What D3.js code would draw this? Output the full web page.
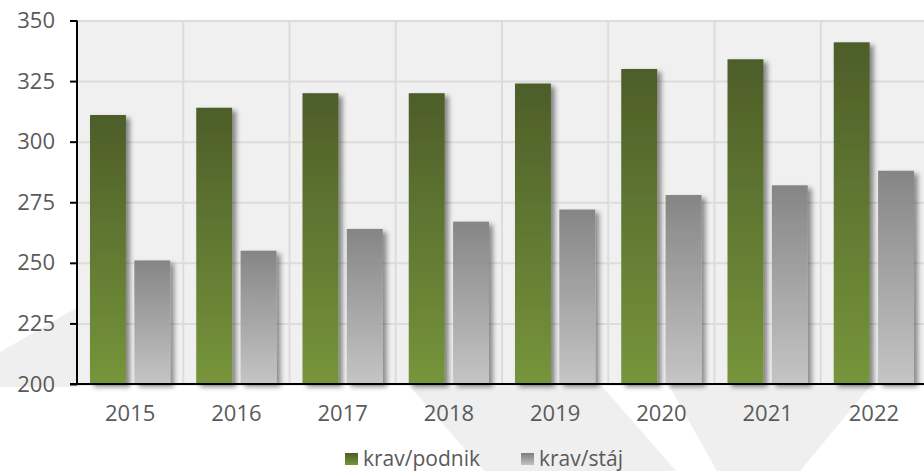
<!DOCTYPE html>
<html>
<head>
<meta charset="utf-8">
<title>krav</title>
<script src="https://cdn.jsdelivr.net/npm/d3@7"></script>
<style>
  body { margin: 0; background: #ffffff; }
  text { font-family: "Open Sans", "DejaVu Sans", sans-serif; }
</style>
</head>
<body>
<svg id="mainsvg" width="924" height="471"></svg>
<script>
  // data
  const years = ['2015', '2016', '2017', '2018', '2019', '2020', '2021', '2022'];
  const podnik = [311, 314, 320, 320, 324, 330, 334, 341];
  const staj = [251, 255, 264, 267, 272, 278, 282, 288];
  const seriesNames = ['krav/podnik', 'krav/stáj'];
  const yTicks = [200, 225, 250, 275, 300, 325, 350];

  const svg = d3.select('#mainsvg');
  const margin = {top: 20.5, left: 77, bottom: 87, right: -3};
  const width = +svg.attr('width'), height = +svg.attr('height');
  const innerWidth = width - margin.left - margin.right;
  const innerHeight = height - margin.top - margin.bottom;

  const defs = svg.append('defs');
  const gGreen = defs.append('linearGradient').attr('id', 'gGreen')
    .attr('x1', 0).attr('y1', 0).attr('x2', 0).attr('y2', 1);
  gGreen.append('stop').attr('offset', '0%').attr('stop-color', '#4d5d29');
  gGreen.append('stop').attr('offset', '100%').attr('stop-color', '#76953b');
  const gGray = defs.append('linearGradient').attr('id', 'gGray')
    .attr('x1', 0).attr('y1', 0).attr('x2', 0).attr('y2', 1);
  gGray.append('stop').attr('offset', '0%').attr('stop-color', '#7e7e7e');
  gGray.append('stop').attr('offset', '100%').attr('stop-color', '#c2c2c2');
  const shadow = defs.append('filter').attr('id', 'shadow')
    .attr('x', '-20%').attr('y', '-10%').attr('width', '160%').attr('height', '130%');
  shadow.append('feDropShadow').attr('dx', 4).attr('dy', 3).attr('stdDeviation', 2.5)
    .attr('flood-color', '#000').attr('flood-opacity', 0.45);

  // watermark in the back
  const wm = svg.append('g').attr('fill', '#efefef');
  wm.append('polygon').attr('points', '0,352 80,306 80,387 0,387');
  wm.append('polygon').attr('points', '408,384 600,384 676,471 484,471');
  wm.append('polygon').attr('points', '668,384 872,384 800,471 717,471');

  const series = [podnik, staj];
  const colors = ['url(#gGreen)', 'url(#gGray)'];

  const x0 = d3.scaleBand().domain(years).range([0, innerWidth]);
  const x1 = d3.scaleBand().domain(seriesNames)
    .range([13, x0.bandwidth() - 13]).paddingInner(0.19);
  const y = d3.scaleLinear().domain([200, 350]).range([innerHeight, 0]);

  const g = svg.append('g').attr('transform', `translate(${margin.left},${margin.top})`);

  g.append('rect').attr('width', innerWidth).attr('height', innerHeight).attr('fill', '#f0f0f0');

  // grid
  g.append('g').call(d3.axisLeft(y).tickValues(yTicks).tickSize(-innerWidth).tickFormat(''))
    .call(a => a.select('.domain').remove())
    .selectAll('line').attr('stroke', '#dcdcdc').attr('stroke-width', 2);
  g.append('g').selectAll('line').data(years.slice(1)).join('line')
    .attr('x1', d => x0(d)).attr('x2', d => x0(d))
    .attr('y1', 0).attr('y2', innerHeight)
    .attr('stroke', '#dcdcdc').attr('stroke-width', 2);

  // bars
  const groups = g.append('g').selectAll('g').data(years).join('g')
    .attr('transform', d => `translate(${x0(d)},0)`);
  groups.selectAll('rect')
    .data((d, i) => seriesNames.map((s, k) => ({s, k, v: series[k][i]})))
    .join('rect')
    .attr('x', d => x1(d.s))
    .attr('width', x1.bandwidth())
    .attr('y', d => y(d.v))
    .attr('height', d => innerHeight - y(d.v))
    .attr('fill', d => colors[d.k])
    .attr('opacity', d => d.k === 1 ? 0.93 : 1)
    .attr('filter', 'url(#shadow)');

  // y axis
  const yAxis = g.append('g').call(d3.axisLeft(y).tickValues(yTicks).tickSize(7).tickPadding(15));
  yAxis.select('.domain').attr('stroke', '#000').attr('stroke-width', 2).attr('d', `M0,0V${innerHeight}`);
  yAxis.selectAll('.tick line').attr('stroke', '#000').attr('stroke-width', 2);
  yAxis.selectAll('text').attr('fill', '#5a5a5a').attr('font-size', 22);

  // x axis
  const xAxis = g.append('g').attr('transform', `translate(0,${innerHeight})`)
    .call(d3.axisBottom(x0).tickSize(0).tickPadding(21));
  xAxis.select('.domain').remove();
  xAxis.selectAll('text').attr('fill', '#5a5a5a').attr('font-size', 22);
  g.append('line').attr('x1', -7).attr('x2', innerWidth)
    .attr('y1', innerHeight).attr('y2', innerHeight)
    .attr('stroke', '#000').attr('stroke-width', 2);

  // legend
  const legendX = [345, 521];
  const legend = svg.append('g').selectAll('g').data(seriesNames).join('g')
    .attr('transform', (d, i) => `translate(${legendX[i]},453)`);
  legend.append('rect').attr('width', 13).attr('height', 12)
    .attr('fill', (d, i) => colors[i]);
  legend.append('text').attr('x', 18).attr('y', 12.5)
    .attr('fill', '#5a5a5a').attr('font-size', 21).text(d => d);
</script>
</body>
</html>
